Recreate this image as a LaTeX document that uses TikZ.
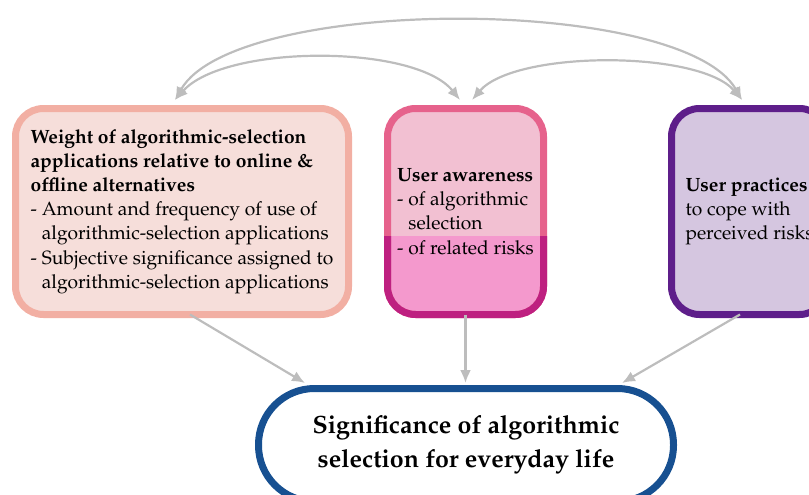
\documentclass[tikz,border=0pt]{standalone}
\usepackage[T1]{fontenc}
\usepackage{mathpazo}
\usetikzlibrary{arrows.meta,shadows}
\definecolor{wtborder}{HTML}{F2AFA3}
\definecolor{wtfill}{HTML}{F6DEDA}
\definecolor{awtop}{HTML}{E6628C}
\definecolor{awfilltop}{HTML}{F2C0D2}
\definecolor{awbot}{HTML}{BE2080}
\definecolor{awfillbot}{HTML}{F499CD}
\definecolor{upborder}{HTML}{5E1E8A}
\definecolor{upfill}{HTML}{D5C6E0}
\definecolor{sigborder}{HTML}{175091}
\definecolor{arrowgray}{HTML}{BDBDBD}
\begin{document}
\begin{tikzpicture}[x=1pt,y=-1pt,
  box/.style={rounded corners=28pt, line width=7pt, inner sep=0pt, outer sep=0pt,
    align=left, font=\fontsize{19.2}{24.2}\selectfont,
    drop shadow={shadow xshift=1.5pt, shadow yshift=-1.5pt, opacity=0.25, fill=black!50}},
  tip/.tip={Latex[length=13pt,width=11pt]},
  conn/.style={draw=arrowgray, line width=2.2pt, -tip},
  bicon/.style={draw=arrowgray, line width=2.2pt, tip-tip}]
\useasboundingbox (0,0) rectangle (809,495);

% boxes
\node[box, draw=wtborder, fill=wtfill, minimum width=333pt, minimum height=206pt] (wt) at (182,211.5)
  {\textbf{Weight of algorithmic-selection}\\
   \textbf{applications relative to online \&}\\
   \textbf{offline alternatives}\\
   - Amount and frequency of use of\\
   \hphantom{- }algorithmic-selection applications\\
   - Subjective significance assigned to\\
   \hphantom{- }algorithmic-selection applications};

\node[box, draw=awtop, fill=awfilltop, minimum width=156pt, minimum height=206pt,
  path picture={\fill[awfillbot, sharp corners] ([yshift=78.5pt]path picture bounding box.south west) rectangle (path picture bounding box.south east);}]
  (aw) at (465.5,211.5)
  {\textbf{User awareness}\\
   - of algorithmic\\
   \hphantom{- }selection\\
   - of related risks};
\begin{scope}
  \clip[sharp corners] ([shift={(-10pt,78.5pt)}]aw.south west) rectangle ([shift={(10pt,-10pt)}]aw.south east);
  \draw[awbot, line width=7pt, rounded corners=28pt] (aw.south west) rectangle (aw.north east);
\end{scope}

\node[box, draw=upborder, fill=upfill, minimum width=156pt, minimum height=206pt] (up) at (749.5,211.5)
  {\textbf{User practices}\\
   to cope with\\
   perceived risks};

\node[draw=sigborder, line width=7pt, fill=white, rounded corners=56pt, minimum width=415pt,
  minimum height=113pt, inner sep=0pt, outer sep=0pt, align=center,
  font=\bfseries\fontsize{25}{34}\selectfont] (sig) at (466,445)
  {Significance of algorithmic\\selection for everyday life};

% connector end points
\coordinate (wtT) at (175,100);
\coordinate (awTL) at (460,100);
\coordinate (awTR) at (472,100);
\coordinate (upT) at (742,100);
\coordinate (sigL) at (305,383);
\coordinate (sigM) at (465.5,383);
\coordinate (sigR) at (622,383);

% top arcs
\draw[bicon] (wtT) .. controls (235,-5) and (682,-5) .. (upT);
\draw[bicon] (wtT) .. controls (225,44) and (415,44) .. (awTL);
\draw[bicon] (awTR) .. controls (515,50) and (700,50) .. (upT);

% lower arrows
\draw[conn] (wt.south -| 190,0) -- (sigL);
\draw[conn] (aw.south) -- (sigM);
\draw[conn] (up.south -| 740,0) -- (sigR);
\end{tikzpicture}
\end{document}
